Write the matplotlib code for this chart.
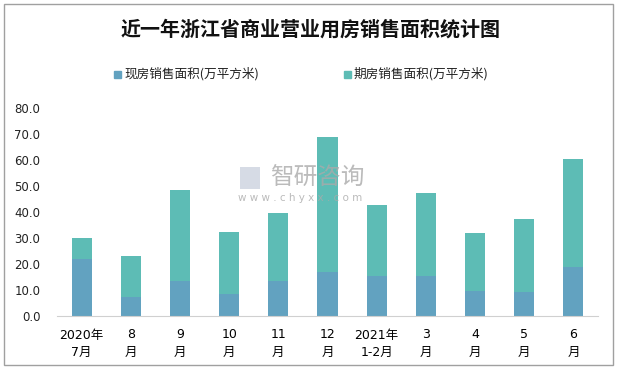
import matplotlib
matplotlib.use("Agg")
import matplotlib.pyplot as plt
from matplotlib.patches import Rectangle

plt.rcParams['font.family'] = ['DejaVu Sans', 'Noto Sans CJK SC']

categories = ["2020年\n7月", "8\n月", "9\n月", "10\n月", "11\n月", "12\n月",
              "2021年\n1-2月", "3\n月", "4\n月", "5\n月", "6\n月"]
xianfang = [22.0, 7.3, 13.5, 8.5, 13.5, 16.9, 15.4, 15.4, 9.6, 9.2, 18.9]
qifang_total = [30.0, 23.1, 48.5, 32.4, 39.7, 68.9, 42.8, 47.4, 32.0, 37.4, 60.5]
qifang = [t - x for t, x in zip(qifang_total, xianfang)]
yticks = [0, 10, 20, 30, 40, 50, 60, 70, 80]
series_names = ["现房销售面积(万平方米)", "期房销售面积(万平方米)"]
title = "近一年浙江省商业营业用房销售面积统计图"

c1 = "#62A2C0"
c2 = "#5DBCB5"

W, H = 617, 369
fig = plt.figure(figsize=(W / 100, H / 100), dpi=100)
ax = fig.add_axes([57 / W, 1 - 316 / H, (598 - 57) / W, (316 - 108) / H])

x = list(range(len(categories)))
ax.bar(x, xianfang, width=0.41, color=c1, label=series_names[0], zorder=2)
ax.bar(x, qifang, width=0.41, bottom=xianfang, color=c2, label=series_names[1], zorder=2)

ax.set_xlim(-0.5, len(categories) - 0.5)
ax.set_ylim(0, 80)
ax.set_yticks(yticks)
ax.set_yticklabels([f"{v:.1f}" for v in yticks], fontsize=8.5, color="#222222")
ax.set_xticks(x)
ax.set_xticklabels(categories, fontsize=9, family=['DejaVu Sans', 'Noto Sans CJK SC'],
                   linespacing=1.45)
ax.tick_params(axis='y', length=0, pad=12)
ax.tick_params(axis='x', length=0, pad=9)
for s in ['top', 'right', 'left']:
    ax.spines[s].set_visible(False)
ax.spines['bottom'].set_color("#D0D0D0")

# title
fig.text(311 / W, 1 - 29 / H, title, ha='center', va='center', fontsize=14.4,
         fontweight='bold', family=['Noto Sans CJK SC'], color="#111111")

# legend (manual)
for (mx, name, col) in [(117, series_names[0], c1), (347, series_names[1], c2)]:
    fig.patches.append(Rectangle((mx / W - 3.5 / W, 1 - 77.5 / H), 7 / W, 7 / H,
                                 transform=fig.transFigure, color=col))
    fig.text((mx + 7) / W, 1 - 74 / H, name, ha='left', va='center', fontsize=9.1,
             family=['Noto Sans CJK SC'], color="#222222")

# watermark
fig.text(270 / W, 1 - 178 / H, "智研咨询", ha='left', va='center', fontsize=17,
         family=['Noto Sans CJK SC'], color="#AAAAAA", alpha=0.8, zorder=5)
fig.text(238 / W, 1 - 198 / H, "w w w . c h y x x . c o m", ha='left', va='center',
         fontsize=7.5, color="#AAAAAA", alpha=0.8, zorder=5)
fig.patches.append(Rectangle((240 / W, 1 - 189 / H), 20 / W, 22 / H,
                             transform=fig.transFigure, facecolor="#C5CCDA",
                             edgecolor='none', alpha=0.7, zorder=5))

# figure border
fig.patches.append(Rectangle((4 / W, 4 / H), (W - 8) / W, (H - 8) / H,
                             transform=fig.transFigure, fill=False,
                             edgecolor="#A0A0A0", linewidth=1))

fig.savefig("out.png", dpi=100)
